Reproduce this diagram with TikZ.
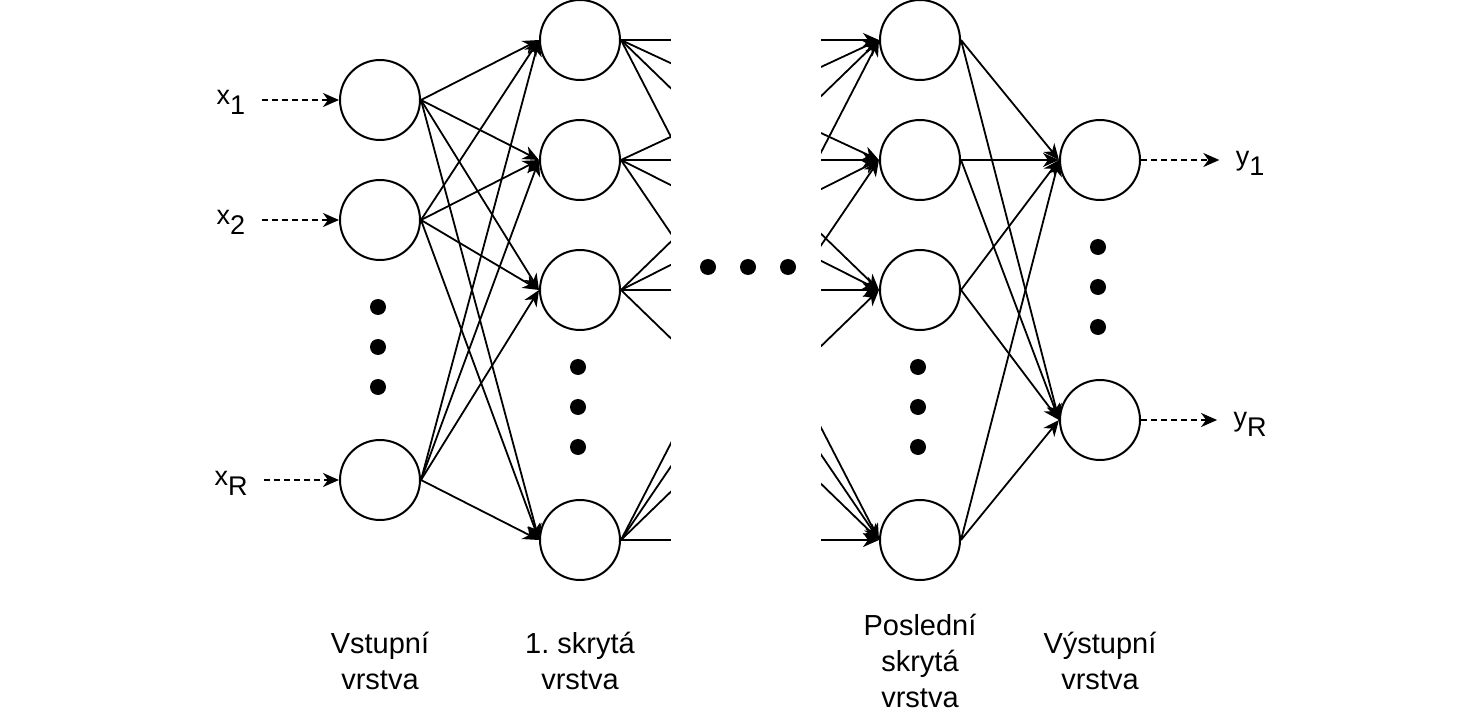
\documentclass[tikz,border=0pt]{standalone}
\usepackage{fontspec}
\setmainfont{Liberation Sans}
\usepackage{tikz}
\usetikzlibrary{arrows.meta,positioning}
\newcommand{\lowidx}[1]{\raisebox{-5pt}{#1}}
\frenchspacing

\begin{document}
\begin{tikzpicture}[x=0.5pt, y=-0.5pt,
        every node/.style={font=\fontsize{14.5}{18}\selectfont},
        neuron/.style={circle, draw=black, line width=1pt, minimum size=40pt, inner sep=0pt},
        weight/.style={-{Stealth[length=8pt,width=7pt,inset=2.5pt]}, line width=0.9pt},
        signal/.style={-{Stealth[length=8pt,width=7pt,inset=2.5pt]}, line width=0.9pt, dash pattern=on 3pt off 2pt},
        dotmark/.style={circle, fill=black, minimum size=8pt, inner sep=0pt},
        varlabel/.style={anchor=base, inner xsep=8pt, font=\fontsize{13.5}{15}\selectfont},
        caption/.style={align=center}]
    \useasboundingbox (0,0) rectangle (1484,722);

    % vstupni vrstva
    \node [neuron] (in1) at (380,100) {};
    \node [neuron] (in2) at (380,220) {};
    \node [neuron] (inR) at (380,480) {};
    % 1. skryta vrstva
    \node [neuron] (h1) at (580,40) {};
    \node [neuron] (h2) at (580,160) {};
    \node [neuron] (h3) at (580,290) {};
    \node [neuron] (h4) at (580,540) {};
    % posledni skryta vrstva
    \node [neuron] (l1) at (920,40) {};
    \node [neuron] (l2) at (920,160) {};
    \node [neuron] (l3) at (920,290) {};
    \node [neuron] (l4) at (920,540) {};
    % vystupni vrstva
    \node [neuron] (o1) at (1100,160) {};
    \node [neuron] (oR) at (1100,420) {};

    \foreach \a in {in1,in2,inR}
        \foreach \b in {h1,h2,h3,h4}
            \draw [weight] (\a.east) -- (\b.west);
    \foreach \a in {h1,h2,h3,h4}
        \foreach \b in {l1,l2,l3,l4}
            \draw [weight] (\a.east) -- (\b.west);
    \fill [white] (671,-5) rectangle (821,600);
    \foreach \a in {l1,l2,l3,l4}
        \foreach \b in {o1,oR}
            \draw [weight] (\a.east) -- (\b.west);

    % vstupy a vystupy
    \node [varlabel] (x1) at (231,105) {x\lowidx{1}};
    \node [varlabel] (x2) at (231,225) {x\lowidx{2}};
    \node [varlabel] (xR) at (231,485) {x\lowidx{R}};
    \node [varlabel] (y1) at (1250,166) {y\lowidx{1}};
    \node [varlabel] (yR) at (1250,426) {y\lowidx{R}};
    \draw [signal] (x1.east |- in1) -- (in1);
    \draw [signal] (x2.east |- in2) -- (in2);
    \draw [signal] (xR.east |- inR) -- (inR);
    \draw [signal] (o1) -- (y1.west |- o1);
    \draw [signal] (oR) -- (yR.west |- oR);

    % tecky
    \foreach \y [count=\i] in {307,347,387} \node [dotmark] (din\i) at (378,\y) {};
    \foreach \y [count=\i] in {367,407,447} \node [dotmark] (dh\i) at (578,\y) {};
    \foreach \y [count=\i] in {367,407,447} \node [dotmark] (dl\i) at (918,\y) {};
    \foreach \y [count=\i] in {247,287,327} \node [dotmark] (dout\i) at (1098,\y) {};
    \foreach \x [count=\i] in {708,748,788} \node [dotmark] (dmid\i) at (\x,267) {};

    % popisky
    \node [caption] (capin) at (380,661) {Vstupní\\vrstva};
    \node [caption] (caph) at (580,661) {1. skrytá\\vrstva};
    \node [caption] (capl) at (920,661) {Poslední\\skrytá\\vrstva};
    \node [caption] (capout) at (1100,661) {Výstupní\\vrstva};
\end{tikzpicture}
\end{document}
